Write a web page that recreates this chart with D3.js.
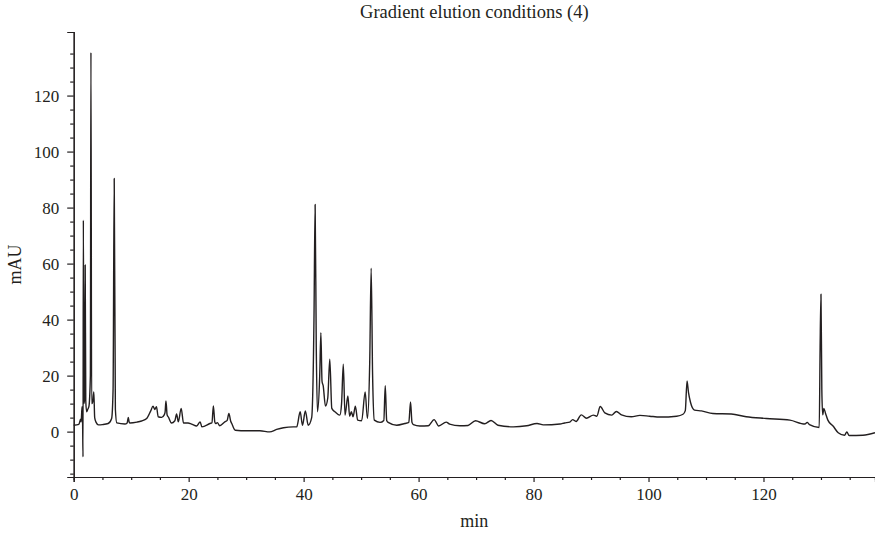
<!DOCTYPE html>
<html>
<head>
<meta charset="utf-8">
<script src="https://cdn.jsdelivr.net/npm/d3@7"></script>
<style>
    body { margin: 0; background: #fff; }
    svg text { font-family: "Liberation Serif", "DejaVu Serif", serif; fill: #231f20; }
</style>
</head>
<body>
<svg id="chart" width="875" height="535"></svg>
<script>
// Retention time (min) and absorbance (mAU)
var time = [
    0.0, 0.9, 1.2, 1.3, 1.45, 1.55, 1.62, 1.68, 1.78, 1.9, 2.0, 2.1, 2.25, 2.45, 2.65, 2.9, 3.0, 3.12, 3.3, 3.5,
    3.65, 3.9, 4.3, 5.0, 6.0, 6.6, 6.85, 7.05, 7.25, 7.5, 8.9, 9.3, 9.5, 9.65, 9.8, 11.0, 11.8, 12.7, 13.4, 13.8,
    14.1, 14.4, 14.7, 15.3, 15.75, 15.9, 16.05, 16.25, 16.5, 17.0, 17.6, 17.9, 18.2, 18.7, 19.1, 19.9, 20.5, 21.4, 22.0, 22.3,
    23.7, 24.05, 24.3, 24.55, 24.7, 25.0, 25.4, 26.3, 26.7, 27.0, 27.3, 27.5, 28.1, 30.1, 32.4, 34.1, 35.3, 36.5, 38.2, 38.8,
    39.4, 39.8, 40.3, 40.8, 41.4, 41.8, 42.0, 42.2, 42.4, 42.8, 43.0, 43.2, 43.4, 43.8, 44.2, 44.55, 44.9, 45.5, 46.3, 46.6,
    46.9, 47.2, 47.7, 48.0, 48.3, 48.6, 49.0, 49.4, 50.1, 50.7, 51.1, 51.5, 51.75, 52.0, 52.3, 53.3, 53.95, 54.2, 54.45, 54.7,
    56.2, 57.6, 58.3, 58.6, 58.85, 59.1, 60.2, 61.7, 62.7, 63.5, 64.8, 65.4, 67.2, 68.6, 69.9, 71.5, 72.6, 73.8, 76.5, 78.8,
    80.6, 81.7, 84.6, 85.4, 86.3, 86.8, 87.4, 88.3, 89.2, 90.4, 91.0, 91.6, 92.4, 93.6, 94.4, 95.3, 97.0, 98.5, 100.2, 102.0,
    104.9, 106.0, 106.4, 106.7, 106.95, 107.3, 108.0, 109.2, 111.2, 114.4, 117.0, 120.5, 124.6, 127.2, 127.6, 128.0, 129.7, 129.85, 130.0, 130.15,
    130.3, 130.5, 130.8, 131.2, 132.1, 133.0, 134.1, 134.5, 134.9, 137.3, 139.4
];
var signal = [
    2.3, 2.6, 4.4, 3.5, 8.9, 3.0, -9.0, 75.5, 10, 12, 59.5, 11, 7.1, 8, 9, 20, 135.4, 10, 10.6, 14.2,
    5, 3.3, 2.4, 2.5, 2.9, 4.7, 15, 90.4, 8, 3.1, 2.7, 3.1, 5.1, 3.4, 3.1, 3.4, 3.8, 4.7, 7.4, 9.1,
    7.9, 8.9, 5.3, 5.1, 6.0, 7.0, 11.0, 6.0, 5.1, 3.1, 3.9, 6.3, 3.5, 8.3, 3.1, 3.1, 2.7, 2.0, 3.5, 1.7,
    2.9, 3.2, 9.2, 3.4, 2.9, 3.2, 2.1, 3.5, 4.0, 6.5, 3.8, 2.9, 0.5, 0.3, 0.3, -0.1, 0.8, 1.4, 1.7, 1.7,
    7.1, 2.3, 7.4, 2.3, 5, 40, 81.1, 30, 7.1, 20, 35.3, 18, 16.4, 9.1, 12, 25.9, 8.3, 7.0, 5.9, 10,
    24.1, 5.9, 12.7, 5.5, 7.1, 5.3, 9.1, 4.1, 3.9, 14.2, 4.7, 25, 58.4, 20, 4.1, 3.3, 4.0, 16.4, 4.0, 3.3,
    2.3, 2.9, 3.3, 10.6, 3.3, 2.5, 2.0, 2.1, 4.3, 2.0, 3.4, 2.7, 2.1, 2.2, 3.9, 2.8, 4.0, 2.3, 1.7, 2.1,
    2.9, 2.4, 2.7, 3.1, 3.4, 4.3, 3.6, 6.0, 4.8, 5.9, 5.5, 9.0, 6.7, 5.9, 7.2, 6.0, 5.3, 5.8, 5.5, 5.2,
    5.5, 6.2, 7.5, 18.1, 14, 10.5, 7.7, 7.4, 6.5, 6.3, 5.3, 4.7, 4.1, 2.7, 3.3, 2.5, 1.5, 30, 49.1, 15,
    6, 8.3, 6.5, 4.1, 2.0, -0.4, -1.3, -0.1, -1.4, -1.3, -0.4
];
var xTicks = [0, 20, 40, 60, 80, 100, 120];
var yTicks = [0, 20, 40, 60, 80, 100, 120];
var titleText = "Gradient elution conditions (4)";

var svg = d3.select("#chart");
var plotLeft = 73.7, plotRight = 875, plotTop = 32, plotBottom = 477;

var x = d3.scaleLinear().domain([0, 139.4]).range([plotLeft, plotRight]);
var y = d3.scaleLinear().domain([-16.2, 142.7]).range([plotBottom, plotTop]);

// Axes: labelled major ticks plus unlabelled minor ticks every 5 units
var notMajor = function(v) { return v % 20 != 0; };

svg.append("g").attr("transform", "translate(0," + plotBottom + ")")
    .call(d3.axisBottom(x).tickValues(xTicks).tickSize(5).tickPadding(6).tickFormat(d3.format("d")));
svg.append("g").attr("transform", "translate(0," + plotBottom + ")")
    .call(d3.axisBottom(x).tickValues(d3.range(5, 139, 5).filter(notMajor)).tickSize(3).tickFormat(""));

svg.append("g").attr("transform", "translate(" + plotLeft + ",0)")
    .call(d3.axisLeft(y).tickValues(yTicks).tickSize(6.5).tickPadding(8).tickFormat(d3.format("d")));
svg.append("g").attr("transform", "translate(" + plotLeft + ",0)")
    .call(d3.axisLeft(y).tickValues(d3.range(-15, 141, 5).filter(notMajor)).tickSize(3.5).tickFormat(""));

svg.selectAll(".domain").attr("stroke", "#231f20").attr("stroke-width", 1.2);
svg.selectAll(".tick line").attr("stroke", "#231f20").attr("stroke-width", 1.2);
svg.selectAll(".tick text").style("font-size", "17px").attr("fill", "#231f20")
    .style("font-family", "'Liberation Serif', 'DejaVu Serif', serif");

// The chromatogram trace
var points = time.map(function(t, i) { return [t, signal[i]]; });
var line = d3.line()
    .x(function(d) { return x(d[0]); })
    .y(function(d) { return y(d[1]); })
    .curve(d3.curveMonotoneX);

svg.append("path")
    .datum(points)
    .attr("fill", "none")
    .attr("stroke", "#231f20")
    .attr("stroke-width", 1.4)
    .attr("stroke-linejoin", "round")
    .attr("d", line);

// Titles
svg.append("text")
    .attr("x", (plotLeft + plotRight) / 2).attr("y", 18)
    .attr("text-anchor", "middle")
    .style("font-size", "18.5px")
    .text(titleText);

svg.append("text")
    .attr("x", (plotLeft + plotRight) / 2).attr("y", 527)
    .attr("text-anchor", "middle")
    .style("font-size", "18px")
    .text("min");

svg.append("text")
    .attr("transform", "translate(21," + ((plotTop + plotBottom) / 2 + 10) + ") rotate(-90)")
    .attr("text-anchor", "middle")
    .style("font-size", "18px")
    .text("mAU");
</script>
</body>
</html>
